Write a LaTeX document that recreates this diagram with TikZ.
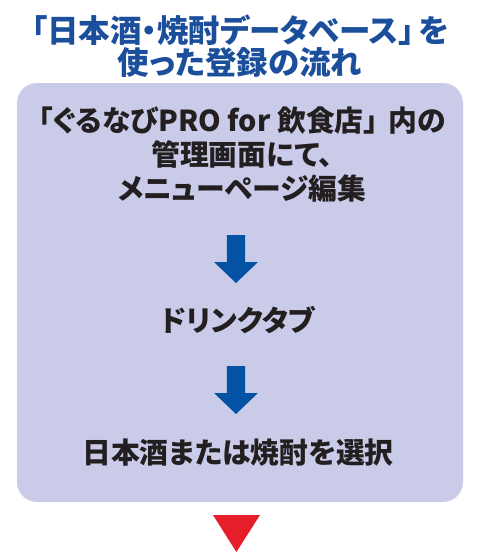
\documentclass[tikz,border=0pt]{standalone}
\usepackage{fontspec}
\setmainfont{Noto Sans CJK JP}[RawFeature=+palt]
\usepackage{tikz}
\usepackage{xcolor}
\usetikzlibrary{positioning}
\definecolor{titleblue}{HTML}{1B4F9C}
\definecolor{panelfill}{HTML}{C9CBE8}
\definecolor{ink}{HTML}{231F20}
\definecolor{arrblue}{HTML}{0452A4}
\definecolor{markred}{HTML}{E61E2A}
\tikzset{
  titletext/.style={text=titleblue,align=center,font=\bfseries\fontsize{22.4}{20.6}\selectfont,
                    inner sep=0pt},
  steptext/.style={text=ink,align=center,font=\bfseries\fontsize{20.5}{24.2}\selectfont,
                   inner sep=0pt},
  panelbox/.style={fill=panelfill,rounded corners=0.5cm},
  downarr/.pic={
    \fill[arrblue] (-0.23,0) -- (0.23,0) -- (0.23,-0.675) -- (0.55,-0.675)
      -- (0,-1.2) -- (-0.55,-0.675) -- (-0.23,-0.675) -- cycle;
  }
}

\begin{document}
\begin{tikzpicture}[x=1cm,y=1cm]
    \path[use as bounding box] (0,0) rectangle (12,-13.9);
    \node[titletext] (title) at (6,-1.16)
      {「日本酒・焼酎データベース」\hspace{0.12em}を\\使った登録の流れ};
    \path[panelbox] (0.425,-2.075) rectangle (11.575,-12.55);
    \node[steptext] (menu) at (6.05,-3.86)
      {「ぐるなびPRO for 飲食店」\hspace{0.35em}内の\\管理画面にて、\\メニューページ編集};
    \pic at (5.9,-5.875) {downarr};
    \node[steptext] (drink) at (5.95,-8.01) {ドリンクタブ};
    \pic at (5.9,-9.15) {downarr};
    \node[steptext] (select) at (5.95,-11.32) {日本酒または焼酎を選択};
    \fill[markred] (5.325,-12.875) -- (6.5,-12.875) -- (5.91,-13.8) -- cycle;
  \end{tikzpicture}
\end{document}
